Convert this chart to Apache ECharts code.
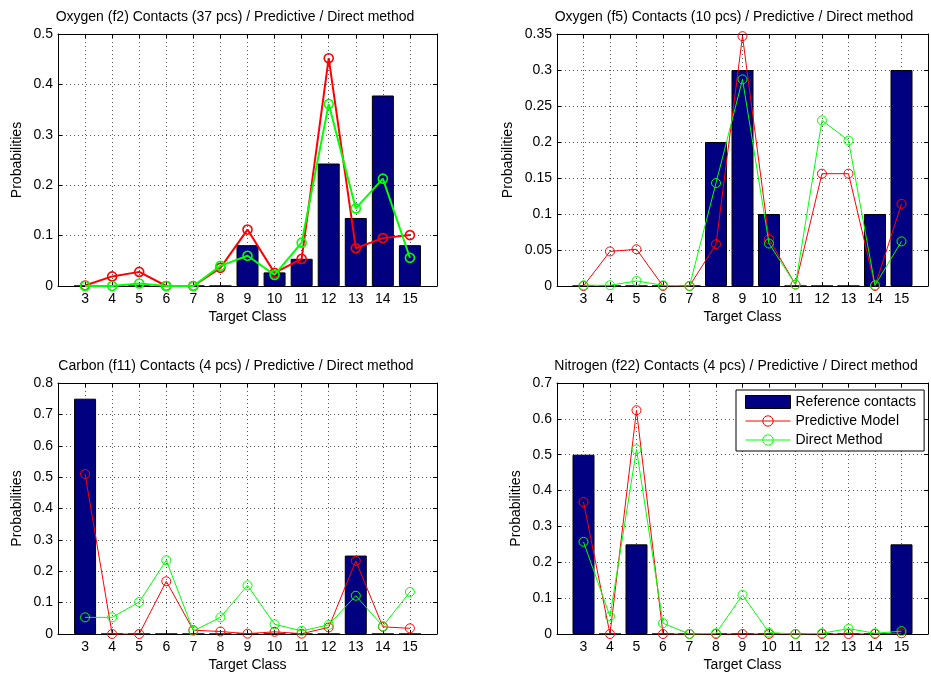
<!DOCTYPE html>
<html>
<head>
<meta charset="utf-8">
<script src="https://cdn.jsdelivr.net/npm/echarts@6/dist/echarts.min.js"></script>
<style>
html,body{margin:0;padding:0;background:#fff;}
#main{width:931px;height:673px;}
</style>
</head>
<body>
<div id="main"></div>
<script>
// ---- data ----
const classes = [3, 4, 5, 6, 7, 8, 9, 10, 11, 12, 13, 14, 15];
const seriesNames = ['Reference contacts', 'Predictive Model', 'Direct Method'];
const panelTitles = [
  'Oxygen (f2) Contacts (37 pcs) / Predictive / Direct method',
  'Oxygen (f5) Contacts (10 pcs) / Predictive / Direct method',
  'Carbon (f11) Contacts (4 pcs) / Predictive / Direct method',
  'Nitrogen (f22) Contacts (4 pcs) / Predictive / Direct method'
];
const yMaxes = [0.5, 0.35, 0.8, 0.7];
const ySteps = [0.1, 0.05, 0.1, 0.1];

// Oxygen (f2)
const o2Ref    = [0, 0, 0, 0, 0, 0, 0.081, 0.027, 0.054, 0.243, 0.135, 0.378, 0.081];
const o2Pred   = [0.001, 0.019, 0.028, 0, 0, 0.036, 0.112, 0.026, 0.054, 0.452, 0.075, 0.095, 0.101];
const o2Direct = [0, 0, 0.005, 0, 0, 0.040, 0.060, 0.022, 0.086, 0.361, 0.154, 0.213, 0.056];
// Oxygen (f5)
const o5Ref    = [0, 0, 0, 0, 0, 0.2, 0.3, 0.1, 0, 0, 0, 0.1, 0.3];
const o5Pred   = [0, 0.048, 0.051, 0, 0, 0.058, 0.347, 0.065, 0.002, 0.156, 0.156, 0, 0.114];
const o5Direct = [0.001, 0.001, 0.007, 0.001, 0, 0.143, 0.287, 0.059, 0.002, 0.230, 0.202, 0.001, 0.062];
// Carbon (f11)
const c11Ref    = [0.75, 0, 0, 0, 0, 0, 0, 0, 0, 0, 0.25, 0, 0];
const c11Pred   = [0.510, 0, 0, 0.168, 0.012, 0.008, 0.001, 0.007, 0.001, 0.021, 0.233, 0.023, 0.018];
const c11Direct = [0.053, 0.053, 0.102, 0.235, 0.010, 0.053, 0.155, 0.031, 0.010, 0.029, 0.122, 0.025, 0.134];
// Nitrogen (f22)
const n22Ref    = [0.5, 0, 0.25, 0, 0, 0, 0, 0, 0, 0, 0, 0, 0.25];
const n22Pred   = [0.368, 0, 0.624, 0, 0, 0, 0, 0, 0, 0, 0, 0, 0.002];
const n22Direct = [0.257, 0.049, 0.515, 0.030, 0, 0.002, 0.109, 0.004, 0, 0.002, 0.015, 0.002, 0.008];

const panels = [
  {ref: o2Ref, pred: o2Pred, direct: o2Direct},
  {ref: o5Ref, pred: o5Pred, direct: o5Direct},
  {ref: c11Ref, pred: c11Pred, direct: c11Direct},
  {ref: n22Ref, pred: n22Pred, direct: n22Direct}
];

// ---- layout / style ----
const FONT = "'Liberation Sans', Arial, Helvetica, sans-serif";
const grids = [
  {left: 58, top: 34, width: 379, height: 252},
  {left: 557, top: 34, width: 378, height: 252},
  {left: 58, top: 383, width: 379, height: 252},
  {left: 557, top: 383, width: 378, height: 252}
];
const titlePos = [
  {left: 235, top: 10}, {left: 734, top: 10},
  {left: 236, top: 359}, {left: 736, top: 359}
];
const yNameGaps = [34, 42, 34, 34];
const lineWidths = [2, 1, 1, 1];
const RED = '#ff0000', GREEN = '#00ff00', BAR = '#000080';
const gridDot = {color: '#555', width: 1, type: [1, 3]};

const xAxes = [], yAxes = [], series = [], titles = [];
grids.forEach((g, i) => {
  titles.push({
    text: panelTitles[i], left: titlePos[i].left, top: titlePos[i].top,
    textAlign: 'center', padding: 0,
    textStyle: {fontFamily: FONT, fontSize: 14, fontWeight: 'normal', color: '#000'}
  });
  xAxes.push({
    type: 'value', gridIndex: i, min: 2, max: 16, interval: 1, position: 'bottom',
    name: 'Target Class', nameLocation: 'middle', nameGap: 24,
    nameTextStyle: {fontFamily: FONT, fontSize: 14, color: '#000'},
    axisLine: {show: true, onZero: false, lineStyle: {color: '#000', width: 1}},
    axisTick: {show: true, inside: true, length: 4, lineStyle: {color: '#000'}},
    axisLabel: {fontFamily: FONT, fontSize: 14, color: '#000', margin: 6,
      formatter: v => classes.indexOf(v) >= 0 ? String(v) : ''},
    splitLine: {show: true, lineStyle: gridDot}
  });
  xAxes.push({
    type: 'value', gridIndex: i, min: 2, max: 16, interval: 1, position: 'top',
    axisLine: {show: true, onZero: false, lineStyle: {color: '#000', width: 1}},
    axisTick: {show: true, inside: true, length: 4, lineStyle: {color: '#000'}},
    axisLabel: {show: false}, splitLine: {show: false}
  });
  yAxes.push({
    type: 'value', gridIndex: i, min: 0, max: yMaxes[i], interval: ySteps[i], position: 'left',
    name: 'Probabilities', nameLocation: 'middle', nameGap: yNameGaps[i],
    nameTextStyle: {fontFamily: FONT, fontSize: 14, color: '#000'},
    axisLine: {show: true, lineStyle: {color: '#000', width: 1}},
    axisTick: {show: true, inside: true, length: 4, lineStyle: {color: '#000'}},
    axisLabel: {fontFamily: FONT, fontSize: 14, color: '#000', margin: 5},
    splitLine: {show: true, lineStyle: gridDot}
  });
  yAxes.push({
    type: 'value', gridIndex: i, min: 0, max: yMaxes[i], interval: ySteps[i], position: 'right',
    axisLine: {show: true, lineStyle: {color: '#000', width: 1}},
    axisTick: {show: true, inside: true, length: 4, lineStyle: {color: '#000'}},
    axisLabel: {show: false}, splitLine: {show: false}
  });
  const p = panels[i];
  const xi = i * 2, yi = i * 2;
  series.push({
    name: seriesNames[0], type: 'bar', xAxisIndex: xi, yAxisIndex: yi,
    barWidth: 22, itemStyle: {color: BAR, borderColor: '#000', borderWidth: 1},
    data: classes.map((c, k) => [c, p.ref[k]]), z: 2
  });
  [[p.pred, RED, 1], [p.direct, GREEN, 2]].forEach(([arr, col, n]) => {
    series.push({
      name: seriesNames[n], type: 'line', xAxisIndex: xi, yAxisIndex: yi,
      symbol: 'circle', symbolSize: 9,
      lineStyle: {color: col, width: lineWidths[i]},
      itemStyle: {color: 'rgba(0,0,0,0)', borderColor: col, borderWidth: lineWidths[i] > 1 ? 1.6 : 1},
      data: classes.map((c, k) => [c, arr[k]]), z: 3 + n
    });
  });
});

const chart = echarts.init(document.getElementById('main'), null, {renderer: 'canvas'});
chart.setOption({
  backgroundColor: '#fff',
  animation: false,
  title: titles,
  grid: grids,
  xAxis: xAxes,
  yAxis: yAxes,
  legend: {
    data: [
      {name: seriesNames[0], icon: 'rect', itemStyle: {borderWidth: 1, borderColor: '#000'}},
      {name: seriesNames[1], lineStyle: {width: 1}, itemStyle: {borderWidth: 1}},
      {name: seriesNames[2], lineStyle: {width: 1}, itemStyle: {borderWidth: 1}}
    ],
    orient: 'vertical', left: 736, top: 390,
    itemWidth: 45, itemHeight: 13, itemGap: 5, itemTextGap: 5,
    padding: [5, 8, 4, 9],
    backgroundColor: '#fff', borderColor: '#000', borderWidth: 1,
    textStyle: {fontFamily: FONT, fontSize: 14, color: '#000'}
  },
  series: series
});
</script>
</body>
</html>
